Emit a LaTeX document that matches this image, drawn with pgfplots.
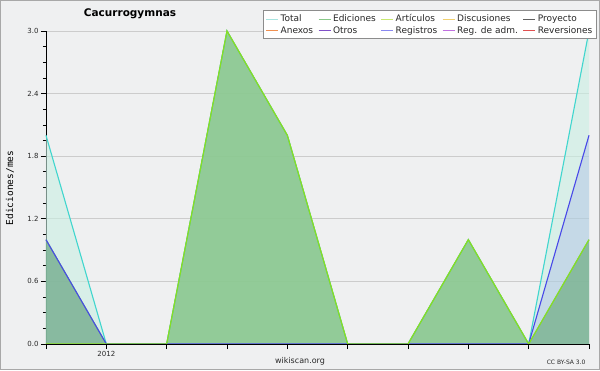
\documentclass[border=0pt]{standalone}
\usepackage{fontspec}
\setmainfont{DejaVu Sans}
\newfontfamily\monofont{DejaVu Sans Mono}
\usepackage{pgfplots}
\pgfplotsset{compat=1.18}
\definecolor{bgc}{RGB}{239,240,241}
\definecolor{framec}{RGB}{168,168,168}
\definecolor{gridc}{RGB}{204,204,204}
\definecolor{labc}{RGB}{40,40,40}
\definecolor{legc}{RGB}{140,140,140}
\definecolor{cyanf}{RGB}{201,239,227}
\definecolor{greenf}{RGB}{134,197,138}
\definecolor{bluef}{RGB}{64,64,224}
\definecolor{totl}{RGB}{64,214,206}
\definecolor{edil}{RGB}{112,192,112}
\definecolor{regl}{RGB}{72,72,232}
\definecolor{artl}{RGB}{136,224,32}
\definecolor{lTotal}{RGB}{168,228,224}
\definecolor{lEdi}{RGB}{136,200,136}
\definecolor{lArt}{RGB}{200,232,112}
\definecolor{lDis}{RGB}{240,208,112}
\definecolor{lPro}{RGB}{96,96,96}
\definecolor{lAne}{RGB}{240,144,80}
\definecolor{lOtr}{RGB}{128,80,200}
\definecolor{lReg}{RGB}{136,136,240}
\definecolor{lAdm}{RGB}{192,112,224}
\definecolor{lRev}{RGB}{224,80,80}
\pgfplotstableread{
x total edic artic regis
0 2 1 0 1
1 0 0 0 0
2 0 0 0 0
3 3 3 3 0
4 2 2 2 0
5 0 0 0 0
6 0 0 0 0
7 1 1 1 0
8 0 0 0 0
9 3 1 1 2
}\datatab
\begin{document}
\begin{tikzpicture}[x=1pt,y=1pt]
\fill[bgc] (0,0) rectangle (600,370);
\draw[framec, line width=1pt] (0.5,0.5) rectangle (599.5,369.5);
\begin{axis}[
  at={(46pt,26pt)}, anchor=south west, scale only axis,
  width=543pt, height=313pt,
  xmin=0, xmax=9, ymin=0, ymax=3,
  axis lines*=left,
  axis line style={black, line width=0.9pt},
  clip=false,
  xtick={0,...,9},
  xticklabels={,2012,,,,,,,,},
  ytick={0,0.6,1.2,1.8,2.4,3.0},
  yticklabels={0.0,0.6,1.2,1.8,2.4,3.0},
  minor ytick={0.15,0.3,0.45,0.75,0.9,1.05,1.35,1.5,1.65,1.95,2.1,2.25,2.55,2.7,2.85},
  tick align=outside,
  major tick length=5pt, minor tick length=3pt,
  tick style={black, line width=0.8pt},
  ymajorgrids,
  grid style={gridc, line width=0.8pt},
  ticklabel style={font=\fontsize{7}{8}\selectfont, text=labc},
  xticklabel style={yshift=1pt},
  yticklabel style={xshift=1pt},
  /pgf/number format/assume math mode=true,
  legend columns=5,
  legend cell align=left,
  legend style={at={(1.0147,1.067)}, anchor=north east, fill=white,
    draw=legc, line width=1.2pt, inner xsep=2pt, inner ysep=2pt,
    font=\fontsize{9}{10}\selectfont, text=labc,
    /tikz/every even column/.append style={column sep=3pt},
    row sep=-1pt},
  legend image code/.code={\draw[#1, line width=0.9pt] (0pt,0pt) -- (12pt,0pt);},
]
\addlegendimage{lTotal}
\addlegendimage{lEdi}
\addlegendimage{lArt}
\addlegendimage{lDis}
\addlegendimage{lPro}
\addlegendimage{lAne}
\addlegendimage{lOtr}
\addlegendimage{lReg}
\addlegendimage{lAdm}
\addlegendimage{lRev}
\legend{Total,Ediciones,Artículos,Discusiones,Proyecto,Anexos,Otros,Registros,Reg. de adm.,Reversiones}
% fills
\addplot[forget plot, draw=none, fill=cyanf, fill opacity=0.6] table[x=x,y=total]{\datatab} \closedcycle;
\addplot[forget plot, draw=none, fill=greenf, fill opacity=0.85] table[x=x,y=edic]{\datatab} \closedcycle;
\addplot[forget plot, draw=none, fill=bluef, fill opacity=0.12] table[x=x,y=regis]{\datatab} \closedcycle;
% lines
\addplot[forget plot, totl, line width=1.1pt] table[x=x,y=total]{\datatab};
\addplot[forget plot, edil, line width=1.1pt] table[x=x,y=edic]{\datatab};
\addplot[forget plot, regl, line width=1.1pt] table[x=x,y=regis]{\datatab};
\addplot[forget plot, artl, line width=1.1pt] table[x=x,y=artic]{\datatab};
\draw[black, line width=0.9pt] (rel axis cs:0,0) -- (rel axis cs:1,0);
\end{axis}
\node[font=\bfseries\fontsize{10.5}{12}\selectfont, text=black] at (130,356) {Cacurrogymnas};
\node[font=\monofont\fontsize{9.5}{11}\selectfont, text=black, rotate=90] at (10,182) {Ediciones/mes};
\node[font=\fontsize{8}{9}\selectfont, text=labc] at (300,9) {wikiscan.org};
\node[font=\fontsize{6}{7}\selectfont, text=labc, anchor=east] at (589,8) {CC BY-SA 3.0};
\end{tikzpicture}
\end{document}
